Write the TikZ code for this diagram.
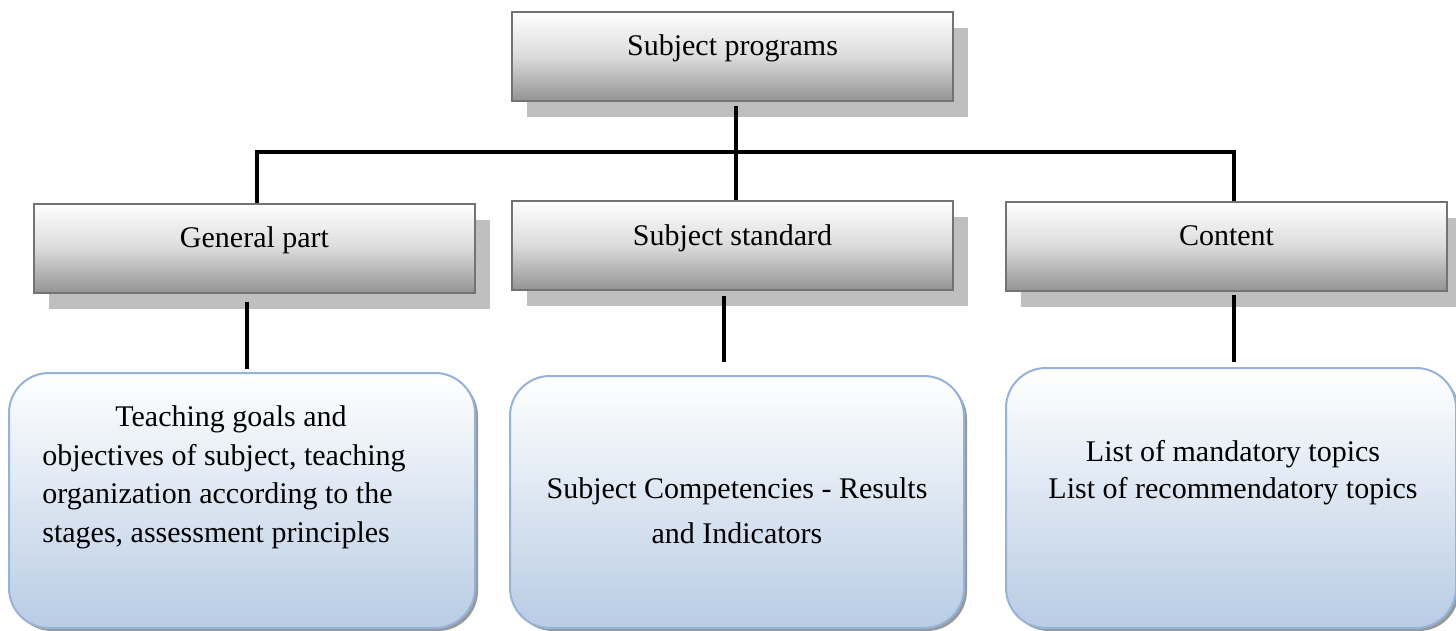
\documentclass[tikz,border=0pt]{standalone}
\usepackage{fontspec}
\setmainfont{Liberation Serif}
\usetikzlibrary{shadows}
\definecolor{leafline}{HTML}{95B3D7}
\definecolor{leafbot}{HTML}{B8CCE4}
\tikzset{
  every node/.style={font=\fontsize{15}{19.3}\selectfont},
  hdr/.style={draw=black!55, line width=1pt, top color=white, bottom color=black!42,
    middle color=black!14, minimum width=220.5pt, minimum height=44.5pt, inner sep=0pt,
    text height=11pt, text depth=11.5pt,
    drop shadow={shadow xshift=7.5pt, shadow yshift=-8pt, fill=black!25, opacity=1}},
  leaf/.style={draw=leafline, line width=1pt, rounded corners=20pt, top color=white,
    bottom color=leafbot, inner sep=0pt,
    drop shadow={shadow xshift=1.5pt, shadow yshift=-1.5pt, fill=black!40, opacity=1}},
  txt/.style={inner sep=0pt},
  link/.style={line width=1.7pt}
}
\begin{document}
\begin{tikzpicture}[x=0.5pt,y=-0.5pt]
  \useasboundingbox (0,0) rectangle (1456,631);
  % header boxes
  \node[hdr] (prog) at (732.5,56.5) {Subject programs};
  \node[hdr] (gen) at (254.5,248) {General part};
  \node[hdr] (std) at (732.5,245.5) {Subject standard};
  \node[hdr] (cont) at (1226.5,246) {Content};
  % detail boxes
  \node[leaf, minimum width=233pt, minimum height=127.5pt] (goals) at (242,500.5) {};
  \node[leaf, minimum width=227pt, minimum height=126pt] (comp) at (737,502) {};
  \node[leaf, minimum width=225pt, minimum height=130pt] (topics) at (1231,498) {};
  \node[txt, anchor=north west, align=left] (goalstxt) at (42,405.5)
    {\hspace*{36.5pt}Teaching goals and\\objectives of subject, teaching\\organization according to the\\stages, assessment principles};
  \node[txt, anchor=north, align=center, font=\fontsize{15}{22.5}\selectfont] (comptxt) at (737,477.5)
    {Subject Competencies - Results\\and Indicators};
  \node[txt, anchor=north, align=center, font=\fontsize{15}{18.5}\selectfont] (topicstxt) at (1233,439.5)
    {List of mandatory topics\\List of recommendatory topics};
  % connectors
  \coordinate (bus) at (736,152);
  \begin{scope}[link]
    \draw ([xshift=1.75pt,yshift=-2pt]prog.south) -- ([xshift=1.75pt]std.north);
    \draw ([xshift=1.25pt]gen.north) |- (bus) -| ([xshift=3.75pt]cont.north);
    \draw ([xshift=-3.75pt,yshift=-4pt]gen.south) -- ([xshift=2.5pt,yshift=1.5pt]goals.north);
    \draw ([xshift=-4.25pt,yshift=-2.5pt]std.south) -- ([xshift=-6.5pt,yshift=6.5pt]comp.north);
    \draw ([xshift=3.75pt,yshift=-1.5pt]cont.south) -- ([xshift=1.5pt,yshift=2.5pt]topics.north);
  \end{scope}
\end{tikzpicture}
\end{document}
